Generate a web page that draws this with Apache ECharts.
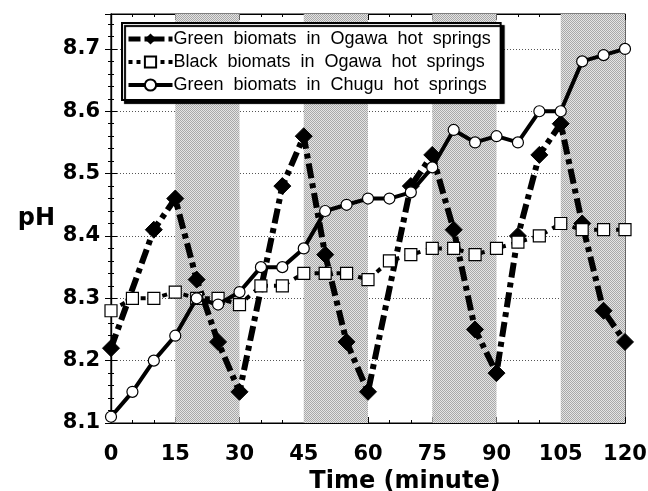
<!DOCTYPE html>
<html>
<head>
<meta charset="utf-8">
<script src="https://cdn.jsdelivr.net/npm/echarts@6/dist/echarts.min.js"></script>
<style>
html,body{margin:0;padding:0;background:#fff;}
#chart{width:648px;height:491px;}
</style>
</head>
<body>
<div id="chart"></div>
<script>
// ---- data ----
const seriesNames = [
  'Green biomats in Ogawa hot springs',
  'Black biomats in Ogawa hot springs',
  'Green biomats in Chugu hot springs'
];
const greenOgawaTime = [0,10,15,20,25,30,40,45,50,55,60,70,75,80,85,90,95,100,105,110,115,120];
const greenOgawaPH   = [8.22,8.41,8.46,8.33,8.23,8.15,8.48,8.56,8.37,8.23,8.15,8.48,8.53,8.41,8.25,8.18,8.40,8.53,8.58,8.42,8.28,8.23];
const sampleTime = [0,5,10,15,20,25,30,35,40,45,50,55,60,65,70,75,80,85,90,95,100,105,110,115,120];
const blackOgawaPH = [8.28,8.30,8.30,8.31,8.30,8.30,8.29,8.32,8.32,8.34,8.34,8.34,8.33,8.36,8.37,8.38,8.38,8.37,8.38,8.39,8.40,8.42,8.41,8.41,8.41];
const greenChuguPH = [8.11,8.15,8.20,8.24,8.30,8.29,8.31,8.35,8.35,8.38,8.44,8.45,8.46,8.46,8.47,8.51,8.57,8.55,8.56,8.55,8.60,8.60,8.68,8.69,8.70];
const shadedBands = [[15,30],[45,60],[75,90],[105,120]];
const xTicks = [0,15,30,45,60,75,90,105,120];
const yTickLabels = ['8.1','8.2','8.3','8.4','8.5','8.6','8.7'];

const pair = (xs, ys) => xs.map((x, i) => [x, ys[i]]);

// halftone pattern for shaded bands
const pc = document.createElement('canvas');
pc.width = 2; pc.height = 2;
const pctx = pc.getContext('2d');
pctx.fillStyle = '#e4e4e4'; pctx.fillRect(0,0,2,2);
pctx.fillStyle = '#a8a8a8'; pctx.fillRect(0,0,1,1); pctx.fillRect(1,1,1,1);

const chart = echarts.init(document.getElementById('chart'), null, {renderer: 'canvas'});
const bold = {fontFamily: 'DejaVu Sans, sans-serif', fontWeight: 'bold', color: '#000'};

const axisLine = {show: true, lineStyle: {color: '#000', width: 1.2}};
const axisTick = {show: true, inside: true, length: 6, lineStyle: {color: '#000', width: 1}};
const minorTick = n => ({show: true, splitNumber: n, length: 3, lineStyle: {color: '#000', width: 1}});

const styles = [
  {symbol: 'diamond', symbolSize: 17, itemStyle: {color: '#000', borderColor: '#000'},
   lineStyle: {color: '#000', width: 6, type: [15, 5, 5, 5]}},
  {symbol: 'rect', symbolSize: 12, itemStyle: {color: '#fff', borderColor: '#000', borderWidth: 1.2},
   lineStyle: {color: '#000', width: 4, type: [5, 6]}},
  {symbol: 'circle', symbolSize: 11, itemStyle: {color: '#fff', borderColor: '#000', borderWidth: 1.2},
   lineStyle: {color: '#000', width: 4}}
];
const legendLine = [
  {color: '#000', width: 5, type: [12, 4, 4, 4]},
  {color: '#000', width: 4, type: [4, 4]},
  {color: '#000', width: 4}
];

chart.setOption({
  animation: false,
  backgroundColor: '#fff',
  grid: {left: 111, right: 23, top: 14, bottom: 68, show: true, borderColor: '#000', borderWidth: 1.2,
         containLabel: false, outerBoundsMode: 'none'},
  legend: {
    orient: 'vertical',
    left: 122, top: 23,
    data: seriesNames.map((n, i) => ({name: n, lineStyle: legendLine[i]})),
    itemWidth: 44, itemHeight: 14, itemGap: 5,
    padding: [7, 10, 6, 4],
    backgroundColor: '#fff',
    borderColor: '#000', borderWidth: 2,
    shadowColor: '#000', shadowBlur: 1, shadowOffsetX: 3, shadowOffsetY: 3,
    formatter: n => n.replace(/ /g, '  '),
    textStyle: {fontFamily: 'Liberation Sans, Arial, sans-serif', fontSize: 18, color: '#000', lineHeight: 18, padding: [0,0,0,-4]}
  },
  xAxis: [{
    type: 'value', min: 0, max: 120, interval: 15,
    name: 'Time (minute)', nameLocation: 'middle', nameGap: 42,
    nameTextStyle: Object.assign({fontSize: 24, padding: [0, 0, 0, 74]}, bold),
    axisLabel: Object.assign({fontSize: 21, margin: 21, formatter: v => xTicks.includes(v) ? String(v) : ''}, bold),
    splitLine: {show: false},
    minorTick: minorTick(3), axisLine, axisTick
  }, {
    type: 'value', position: 'top', min: 0, max: 120, interval: 15,
    axisLabel: {show: false}, splitLine: {show: false},
    minorTick: minorTick(3), axisLine, axisTick
  }],
  yAxis: [{
    type: 'value', min: 8.1, max: 8.756, interval: 0.1,
    name: 'pH', nameLocation: 'middle', nameRotate: 0, nameGap: 56,
    nameTextStyle: Object.assign({fontSize: 24, padding: [0, 0, 26, 0]}, bold),
    axisLabel: Object.assign({fontSize: 21, margin: 11, showMaxLabel: false,
      formatter: v => { const s = v.toFixed(1); return yTickLabels.includes(s) && Math.abs(v - parseFloat(s)) < 1e-6 ? s : ''; }}, bold),
    splitLine: {show: true, lineStyle: {color: '#555', width: 1, type: [1, 2]}},
    minorTick: minorTick(5), axisLine, axisTick
  }, {
    type: 'value', position: 'right', min: 8.1, max: 8.756, interval: 0.1,
    axisLabel: {show: false}, splitLine: {show: false},
    minorTick: minorTick(5), axisLine, axisTick
  }],
  series: [Object.assign({
    name: seriesNames[0], type: 'line',
    data: pair(greenOgawaTime, greenOgawaPH),
    z: 3,
    markArea: {
      silent: true,
      itemStyle: {color: {image: pc, repeat: 'repeat'}},
      data: shadedBands.map(b => [{xAxis: b[0]}, {xAxis: b[1]}])
    }
  }, styles[0]), Object.assign({
    name: seriesNames[1], type: 'line',
    data: pair(sampleTime, blackOgawaPH),
    z: 4
  }, styles[1]), Object.assign({
    name: seriesNames[2], type: 'line',
    data: pair(sampleTime, greenChuguPH),
    z: 5
  }, styles[2])]
});
</script>
</body>
</html>
